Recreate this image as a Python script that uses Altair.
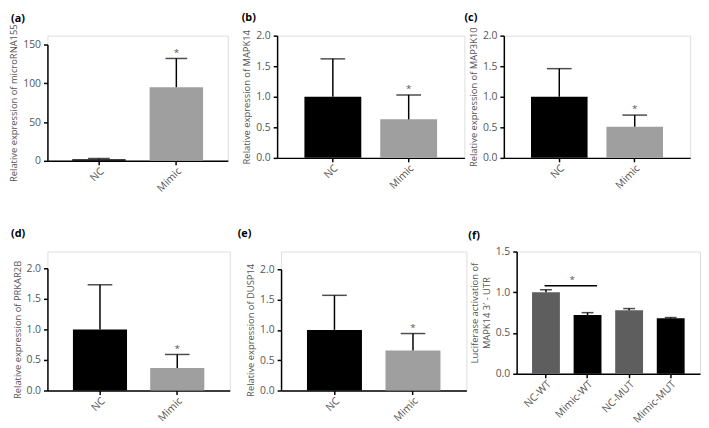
import altair as alt
import pandas as pd

# ---- data ----
cats2 = ["NC", "Mimic"]
f_cats = ["NC-WT", "Mimic-WT", "NC-MUT", "Mimic-MUT"]

a_mean = [2, 95]
a_upper = [3, 132]
b_mean = [1.0, 0.63]
b_upper = [1.62, 1.03]
c_mean = [1.0, 0.51]
c_upper = [1.46, 0.70]
d_mean = [1.0, 0.37]
d_upper = [1.73, 0.59]
e_mean = [1.0, 0.66]
e_upper = [1.57, 0.94]
f_mean = [1.0, 0.72, 0.78, 0.68]
f_upper = [1.03, 0.75, 0.80, 0.69]

star2 = [False, True]
f_star = [False, False, False, False]
f_sig_from = "NC-WT"
f_sig_to = "Mimic-WT"
f_sig_y = 1.08

colors2 = ["#000000", "#9f9f9f"]
f_colors = ["#5e5e5e", "#000000", "#5e5e5e", "#000000"]

y_ticks_a = [0, 50, 100, 150]
y_ticks_2 = [0, 0.5, 1, 1.5, 2]
y_ticks_f = [0, 0.5, 1, 1.5]

y_titles = {
    "a": "Relative expression of microRNA155",
    "b": "Relative expression of MAPK14",
    "c": "Relative expression of MAP3K10",
    "d": "Relative expression of PRKAR2B",
    "e": "Relative expression of DUSP14",
    "f": ["Luciferase activation of", "MAPK14 3\u2032 - UTR"],
}

FONT = "Open Sans"
TXT = "#555555"


def panel(letter, cats, means, uppers, colors, stars, ydomain, yticks, yfmt,
          width, height, rtop, cap, pi, po, toff, tdx, sig=None):
    df = pd.DataFrame({"cat": cats, "mean": means, "upper": uppers,
                       "color": colors, "star": stars})
    xs = alt.Scale(domain=cats, paddingInner=pi, paddingOuter=po)
    ys = alt.Scale(domain=ydomain, range=[height, rtop], nice=False, zero=True)
    xax = alt.Axis(
        title=None, labelAngle=-45, labelFont=FONT, labelFontSize=10.5,
        labelColor=TXT, domainColor="black", domainWidth=1.5, tickColor="black",
        tickWidth=1.5, tickSize=4, labelPadding=1)
    yax = alt.Axis(
        title=y_titles[letter], values=yticks, format=yfmt, grid=False,
        labelOverlap=False, labelFont=FONT, labelFontSize=10.5, labelColor=TXT,
        titleFont=FONT, titleFontSize=9.5, titleFontWeight="normal",
        titleColor=TXT, domainColor="black", domainWidth=1.5,
        tickColor="black", tickWidth=1.5, tickSize=4, labelPadding=3,
        titlePadding=4)
    base = alt.Chart(df)
    bars = base.mark_bar().encode(
        x=alt.X("cat:N", scale=xs, axis=xax),
        y=alt.Y("mean:Q", scale=ys, axis=yax),
        color=alt.Color("color:N", scale=None))
    rule = base.mark_rule(color="black", strokeWidth=1.5).encode(
        x=alt.X("cat:N", scale=xs, axis=xax),
        y=alt.Y("mean:Q", scale=ys, axis=yax), y2="upper:Q")
    caps = base.mark_tick(color="black", thickness=1.5, size=cap).encode(
        x=alt.X("cat:N", scale=xs, axis=xax),
        y=alt.Y("upper:Q", scale=ys, axis=yax))
    layers = [bars, rule, caps]
    if any(stars):
        st = base.transform_filter("datum.star").mark_text(
            text="*", dy=-3, baseline="alphabetic", font=FONT, fontSize=10,
            color=TXT).encode(x=alt.X("cat:N", scale=xs, axis=xax),
                              y=alt.Y("upper:Q", scale=ys, axis=yax))
        layers.append(st)
    if sig is not None:
        sdf = pd.DataFrame({"cat": [sig[0]], "cat2": [sig[1]], "y": [sig[2]]})
        sb = alt.Chart(sdf)
        line = sb.mark_rule(color="black", strokeWidth=1.5).encode(
            x=alt.X("cat:N", scale=xs, axis=xax, bandPosition=0.45),
            x2=alt.X2("cat2:N", bandPosition=0.84),
            y=alt.Y("y:Q", scale=ys, axis=yax))
        st2 = sb.mark_text(text="*", dy=-3, baseline="alphabetic", font=FONT,
                           fontSize=10, color=TXT, xOffset=-1.5).encode(
            x=alt.X("cat2:N", scale=xs, axis=xax, bandPosition=0),
            y=alt.Y("y:Q", scale=ys, axis=yax))
        layers += [line, st2]
    return alt.layer(*layers).properties(
        width=width, height=height,
        title=alt.TitleParams(f"({letter})", anchor="start", frame="group",
                              font=FONT, fontSize=11, fontWeight="bold",
                              color="black", offset=toff, dx=tdx))


pa = panel("a", cats2, a_mean, a_upper, colors2, star2, [0, 150], y_ticks_a, "d",
           183, 127, 9, 22, 0.31, 0.32, 0, -37)
pb = panel("b", cats2, b_mean, b_upper, colors2, star2, [0, 2], y_ticks_2, ".1f",
           190, 124, 0, 25, 0.25, 0.36, 7, -36)
pc = panel("c", cats2, c_mean, c_upper, colors2, star2, [0, 2], y_ticks_2, ".1f",
           189, 124, 0, 25, 0.25, 0.36, 4, -40)
pd_ = panel("d", cats2, d_mean, d_upper, colors2, star2, [0, 2], y_ticks_2, ".1f",
            185, 141, 17, 25, 0.3, 0.33, 13, -37)
pe = panel("e", cats2, e_mean, e_upper, colors2, star2, [0, 2], y_ticks_2, ".1f",
           188, 141, 18, 25, 0.3, 0.33, 13, -44)
pf = panel("f", f_cats, f_mean, f_upper, f_colors, f_star, [0, 1.5], y_ticks_f, ".1f",
           186, 124, 0, 12, 0.33, 0.37, 6, -49, sig=(f_sig_from, f_sig_to, f_sig_y))

row1 = alt.hconcat(pa, alt.hconcat(pb, pc, spacing=40, bounds="flush"),
                   spacing=50, bounds="flush")
row2 = alt.hconcat(pd_, alt.hconcat(pe, pf, spacing=51, bounds="flush"),
                   spacing=52, bounds="flush")

chart = alt.vconcat(row1, row2, spacing=219, bounds="flush").properties(
    padding={"left": 0, "top": 0, "right": 0, "bottom": 0}
).configure_view(stroke=None).configure(background="white")

chart.save("out.html", embed_options={"renderer": "svg", "actions": False})
